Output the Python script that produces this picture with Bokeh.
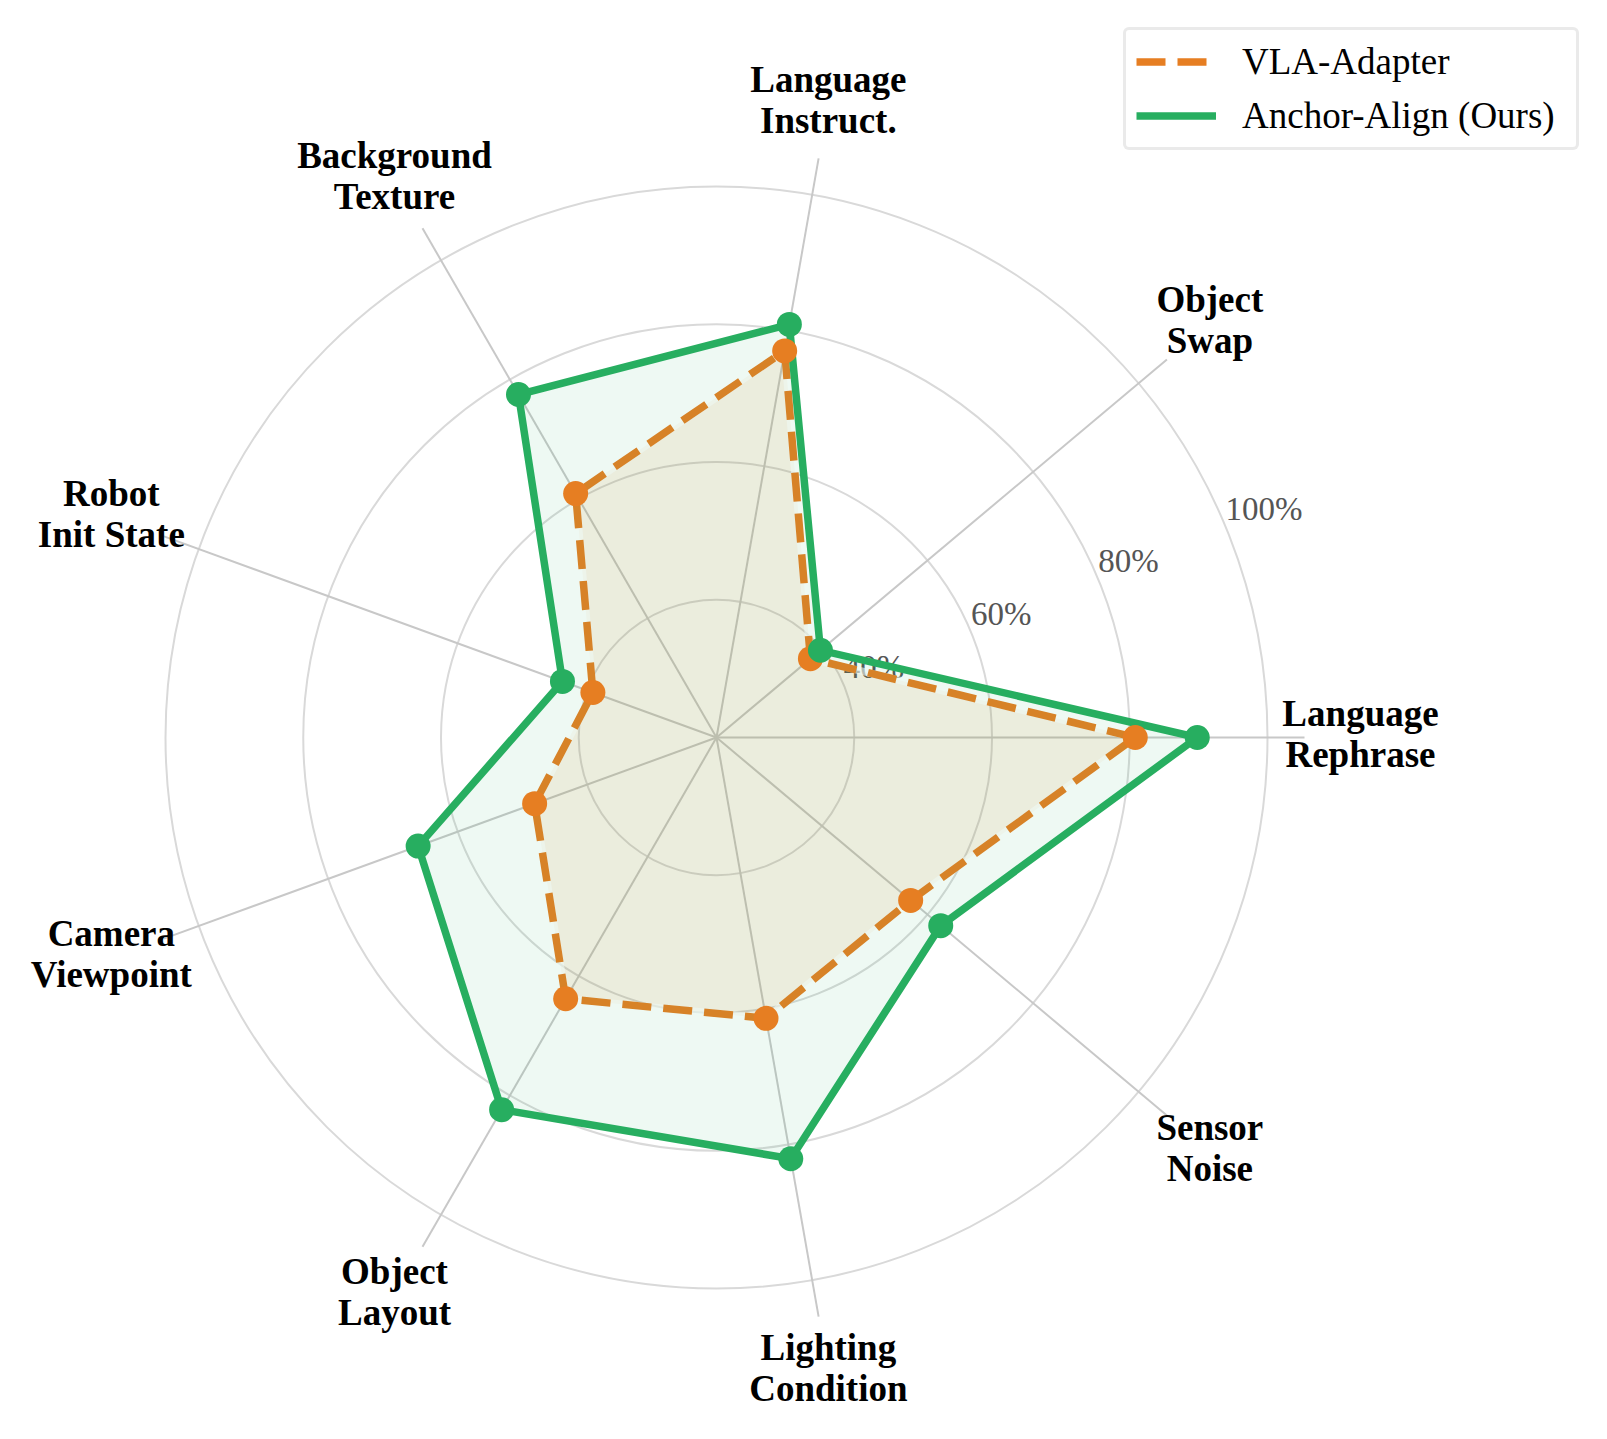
import numpy as np
from bokeh.plotting import figure
from bokeh.models import Range1d, Legend, LegendItem
from bokeh.core.properties import value
from bokeh.embed import file_html
from bokeh.resources import INLINE

# ---- data ----
categories = ["Language\nRephrase", "Object\nSwap", "Language\nInstruct.", "Background\nTexture",
              "Robot\nInit State", "Camera\nViewpoint", "Object\nLayout", "Lighting\nCondition",
              "Sensor\nNoise"]
vla_adapter = [80.8, 37.8, 77.0, 60.9, 39.1, 48.1, 63.8, 61.4, 56.8]
anchor_align = [89.8, 39.7, 80.9, 77.5, 43.8, 66.1, 82.4, 82.1, 62.5]
tick_values = [40, 60, 80, 100]
tick_labels = ["40%", "60%", "80%", "100%"]
r_min = 20  # value at the centre

ORANGE = "#E67E22"
GREEN = "#27AE60"
FONT_NAME = "Liberation Serif"
FONT = value(FONT_NAME)

W, H = 1591, 1423
R_PX = 551.0                 # pixel radius of the 100% ring
k = R_PX / (100 - r_min)     # px per value unit
cx, cy = 716, 737            # centre in frame pixels (from left, from top)

p = figure(width=W, height=H, output_backend="svg", toolbar_location=None,
           x_range=Range1d(-cx / k, (W - cx) / k), y_range=Range1d(-(H - cy) / k, cy / k),
           min_border=0, outline_line_color=None)
p.axis.visible = False
p.grid.visible = False

n = len(categories)
ang = np.deg2rad(np.arange(n) * 360.0 / n)

# rings
ring_r = [t - r_min for t in tick_values]
p.circle(x=[0] * len(ring_r), y=[0] * len(ring_r), radius=ring_r, fill_color=None,
         line_color="#d9d9d9", line_width=2)
# spokes
spoke_r = 588.0 / k
p.segment(x0=[0] * n, y0=[0] * n, x1=list(spoke_r * np.cos(ang)), y1=list(spoke_r * np.sin(ang)),
          line_color="#c8c8c8", line_width=2)

# radial tick labels
ta = np.deg2rad(22.5)
p.text(x=[r * np.cos(ta) for r in ring_r], y=[r * np.sin(ta) for r in ring_r], text=tick_labels,
       text_font=FONT, text_font_size="33px", text_color="#555555",
       text_align="left", text_baseline="bottom")

# category labels
lab_r = 644.0 / k
p.text(x=list(lab_r * np.cos(ang)), y=list(lab_r * np.sin(ang)), text=categories,
       text_font=FONT, text_font_style="bold", text_font_size="37px", text_color="black",
       text_align="center", text_baseline="middle", text_line_height=1.0, y_offset=-3.5)


def polar(vals):
    r = np.array(vals, dtype=float) - r_min
    return list(r * np.cos(ang)), list(r * np.sin(ang))


ox, oy = polar(vla_adapter)
gx, gy = polar(anchor_align)

p.patch(ox, oy, fill_color=ORANGE, fill_alpha=0.10, line_color=None)
p.line(ox + ox[:1], oy + oy[:1], line_color="white", line_alpha=0.6, line_width=7.5)
o_line = p.line(ox + ox[:1], oy + oy[:1], line_color=ORANGE, line_width=7.5, line_dash="29 12")
p.patch(gx, gy, fill_color=GREEN, fill_alpha=0.08, line_color=None)
g_line = p.line(gx + gx[:1], gy + gy[:1], line_color=GREEN, line_width=7.5, line_join="miter")
p.scatter(ox, oy, size=25, fill_color=ORANGE, line_color=None)
p.scatter(gx, gy, size=25, fill_color=GREEN, line_color=None)

legend = Legend(items=[LegendItem(label="VLA-Adapter", renderers=[o_line]),
                       LegendItem(label="Anchor-Align (Ours)", renderers=[g_line])],
                location=(1123, H - 150),
                label_text_font=FONT_NAME, label_text_font_size="37px", label_text_color="black",
                glyph_width=80, glyph_height=41, label_height=41, label_width=324,
                label_standoff=26, padding=10, spacing=11, margin=0,
                border_line_color="#d5d5d5", border_line_width=3,
                background_fill_color="white", background_fill_alpha=1.0)
if "border_radius" in Legend.properties():
    legend.border_radius = 6
p.add_layout(legend)

open("out.html", "w").write(file_html(p, INLINE))
